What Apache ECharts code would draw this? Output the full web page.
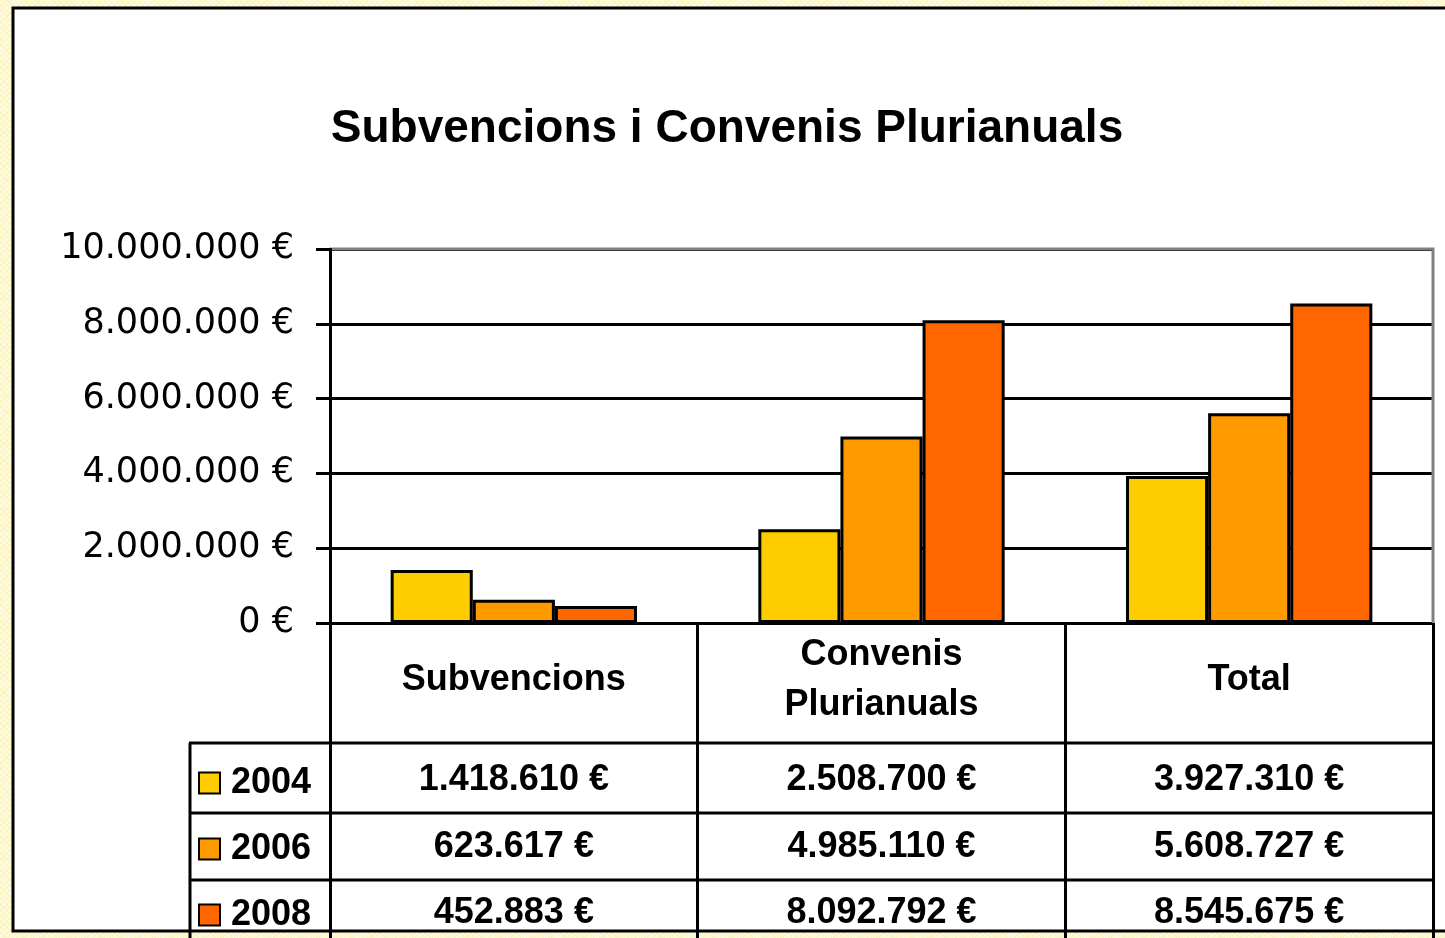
<!DOCTYPE html>
<html>
<head>
<meta charset="utf-8">
<title>Subvencions i Convenis Plurianuals</title>
<script src="https://cdn.jsdelivr.net/npm/echarts@6/dist/echarts.min.js"></script>
<style>
  html, body {
    margin: 0;
    padding: 0;
    background-color: #fffbe0;
    background-image:
      repeating-linear-gradient(45deg, rgba(250, 240, 170, 0.6) 0 1px, transparent 1px 4px),
      repeating-linear-gradient(-45deg, rgba(250, 240, 170, 0.6) 0 1px, transparent 1px 4px);
  }
</style>
</head>
<body>
<div id="chart" style="width: 1445px; height: 938px;"></div>
<script>
// dades
const categories = ['Subvencions', 'Convenis Plurianuals', 'Total'];
const years = ['2004', '2006', '2008'];
const values2004 = [1418610, 2508700, 3927310];
const values2006 = [623617, 4985110, 5608727];
const values2008 = [452883, 8092792, 8545675];
const colors = ['#FFCC00', '#FF9900', '#FF6600'];

const seriesValues = [values2004, values2006, values2008];

// format 1.234.567 €
function euro(v) {
  return String(v).replace(/\B(?=(\d{3})+(?!\d))/g, '.') + ' €';
}

const gridLeft = 330, gridTop = 249, gridRight = 1433, gridBottom = 623;
const rowLines = [743, 813, 880];
const rowCenters = [780, 847, 913];
const colW = (gridRight - gridLeft) / categories.length;

const myChart = echarts.init(document.getElementById('chart'));

// fons, vores i taula de dades
const graphics = [
  {
    type: 'rect',
    z: -10,
    shape: { x: 13, y: 8, width: 1460, height: 923 },
    style: { fill: '#ffffff', stroke: '#000000', lineWidth: 3 }
  },
  {
    type: 'polyline',
    z: 50,
    shape: { points: [[gridLeft + 2, gridTop], [gridRight, gridTop], [gridRight, gridBottom]] },
    style: { stroke: '#808080', lineWidth: 3, fill: null }
  }
];
rowLines.forEach(y => {
  graphics.push({
    type: 'line',
    shape: { x1: 189, y1: y, x2: gridRight + 1, y2: y },
    style: { stroke: '#000', lineWidth: 3 }
  });
});
graphics.push({
  type: 'line',
  shape: { x1: 190, y1: rowLines[0], x2: 190, y2: 938 },
  style: { stroke: '#000', lineWidth: 3 }
});
seriesValues.forEach((vals, r) => {
  vals.forEach((v, c) => {
    graphics.push({
      type: 'text',
      x: gridLeft + (c + 0.5) * colW,
      y: rowCenters[r],
      style: {
        text: euro(v),
        fill: '#000',
        font: 'bold 36px "Liberation Sans", Arial, sans-serif',
        align: 'center',
        verticalAlign: 'middle'
      }
    });
  });
});

const option = {
  animation: false,
  backgroundColor: 'transparent',
  title: {
    text: 'Subvencions i Convenis Plurianuals',
    left: 722,
    textAlign: 'center',
    top: 101,
    textStyle: {
      fontFamily: '"Liberation Sans", Arial, sans-serif',
      fontSize: 46,
      fontWeight: 'bold',
      color: '#000'
    }
  },
  legend: {
    orient: 'vertical',
    left: 193,
    top: 760,
    itemWidth: 21,
    itemHeight: 21,
    itemGap: 30,
    icon: 'rect',
    data: years,
    textStyle: {
      fontFamily: '"Liberation Sans", Arial, sans-serif',
      fontSize: 36,
      fontWeight: 'bold',
      color: '#000',
      padding: [0, 0, 0, 6]
    }
  },
  grid: {
    left: gridLeft,
    top: gridTop,
    width: gridRight - gridLeft,
    height: gridBottom - gridTop,
    show: true,
    borderWidth: 0,
    backgroundColor: '#fff'
  },
  xAxis: {
    type: 'category',
    data: categories,
    axisLine: { lineStyle: { color: '#000', width: 3 } },
    axisTick: { show: true, length: 315, lineStyle: { color: '#000', width: 3 } },
    axisLabel: {
      margin: 57,
      verticalAlign: 'middle',
      lineHeight: 50,
      fontFamily: '"Liberation Sans", Arial, sans-serif',
      fontSize: 36,
      fontWeight: 'bold',
      color: '#000',
      formatter: name => name.replace(' ', '\n')
    }
  },
  yAxis: {
    type: 'value',
    min: 0,
    max: 10000000,
    interval: 2000000,
    axisLine: { show: true, lineStyle: { color: '#000', width: 3 } },
    axisTick: { show: true, length: 14, lineStyle: { color: '#000', width: 3 } },
    splitLine: { lineStyle: { color: '#000', width: 3 } },
    axisLabel: {
      margin: 36,
      fontFamily: '"DejaVu Sans", sans-serif',
      fontSize: 35,
      color: '#000',
      formatter: v => euro(v)
    }
  },
  series: years.map((y, i) => ({
    name: y,
    type: 'bar',
    data: seriesValues[i],
    barGap: '0%',
    barCategoryGap: '33%',
    itemStyle: { color: colors[i], borderColor: '#000', borderWidth: 3 }
  })),
  graphic: graphics
};

myChart.setOption(option);
</script>
</body>
</html>
